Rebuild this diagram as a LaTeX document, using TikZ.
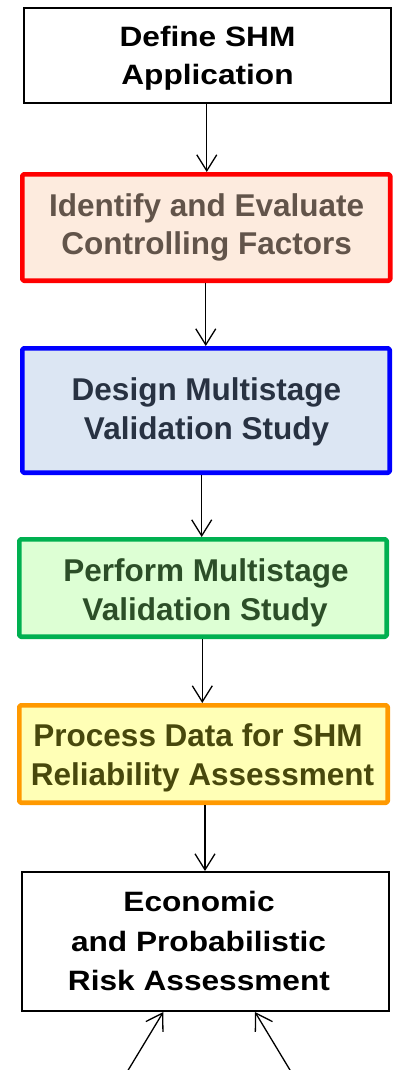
\documentclass[tikz,border=0pt]{standalone}
\usepackage{fontspec}
\setmainfont{Liberation Sans}
\usetikzlibrary{arrows.meta}

\definecolor{idfill}{RGB}{253,235,222}
\definecolor{idtext}{RGB}{98,84,74}
\definecolor{dsfill}{RGB}{220,230,243}
\definecolor{dsline}{RGB}{0,0,255}
\definecolor{dstext}{RGB}{40,50,66}
\definecolor{pffill}{RGB}{221,255,212}
\definecolor{pfline}{RGB}{0,176,80}
\definecolor{pftext}{RGB}{44,78,40}
\definecolor{prfill}{RGB}{255,255,182}
\definecolor{prline}{RGB}{255,153,0}
\definecolor{prtext}{RGB}{72,72,12}

\begin{document}
\begin{tikzpicture}[x=1pt,y=-1pt,
  plainbox/.style={draw=black,fill=white,line width=1.6pt,inner sep=0pt},
  colbox/.style={line width=4.6pt,rounded corners=1.5pt,line join=round,inner sep=0pt},
  ln/.style={anchor=base,inner sep=0pt,font=\bfseries\fontsize{31.5}{37}\selectfont},
  blackln/.style={anchor=base,inner sep=0pt,font=\bfseries\fontsize{28}{34}\selectfont,
    text=black,xscale=1.13,transform shape},
  arr/.style={line width=1.3pt,-{Straight Barb[length=16pt,width=20pt]}}]

\useasboundingbox (0,0) rectangle (393,1070);
\fill[white] (0,0) rectangle (393,1070);
\clip (0,0) rectangle (393,1070);

% stage boxes
\node[plainbox,minimum width=366.9pt,minimum height=95.4pt] (b1) at (207.25,55.5) {};
\node[colbox,draw=red,fill=idfill,minimum width=367.9pt,minimum height=106.4pt] (b2) at (206.25,227.5) {};
\node[colbox,draw=dsline,fill=dsfill,minimum width=367.4pt,minimum height=124.4pt] (b3) at (206,410.5) {};
\node[colbox,draw=pfline,fill=pffill,minimum width=367.4pt,minimum height=97.4pt] (b4) at (203,588) {};
\node[colbox,draw=prline,fill=prfill,minimum width=368.4pt,minimum height=97.4pt] (b5) at (203.5,754) {};
\node[plainbox,minimum width=367.4pt,minimum height=139.4pt] (b6) at (205.5,941.5) {};

% box texts, one node per line
\node[blackln] (t1a) at (207.5,47) {Define SHM};
\node[blackln] (t1b) at (207.5,85) {Application};

\node[ln,text=idtext] (t2a) at (206.7,216.7) {Identify and Evaluate};
\node[ln,text=idtext] (t2b) at (206.7,254) {Controlling Factors};

\node[ln,text=dstext] (t3a) at (206.5,400.7) {Design Multistage};
\node[ln,text=dstext] (t3b) at (206.5,439) {Validation Study};

\node[ln,text=pftext] (t4a) at (206,581.7) {Perform Multistage};
\node[ln,text=pftext] (t4b) at (205,620.7) {Validation Study};

\node[ln,text=prtext] (t5a) at (198,746) {Process Data for SHM};
\node[ln,text=prtext] (t5b) at (202.5,785) {Reliability Assessment};

\node[blackln] (t6a) at (199,911.7) {Economic};
\node[blackln] (t6b) at (198.5,951.7) {and Probabilistic};
\node[blackln] (t6c) at (199,990) {Risk Assessment};

% flow arrows
\draw[arr] ([xshift=-0.5pt]b1.south) -- ([xshift=-0.5pt]b1.south |- b2.north);
\draw[arr] ([xshift=-0.5pt]b2.south) -- ([xshift=-0.5pt]b2.south |- b3.north);
\draw[arr] ([xshift=-4.3pt]b3.south) -- ([xshift=-4.3pt]b3.south |- b4.north);
\draw[arr] ([xshift=-0.7pt]b4.south) -- ([xshift=-0.7pt]b4.south |- b5.north);
\draw[arr] ([xshift=1.5pt]b5.south) -- ([xshift=1.5pt]b5.south |- b6.north);

% inputs entering the last box from below
\coordinate (inl) at (125.5,1074.5);
\coordinate (inr) at (292.7,1074.5);
\draw[arr] (inl) -- ([xshift=-42.2pt]b6.south);
\draw[arr] (inr) -- ([xshift=49.5pt]b6.south);
\end{tikzpicture}
\end{document}
